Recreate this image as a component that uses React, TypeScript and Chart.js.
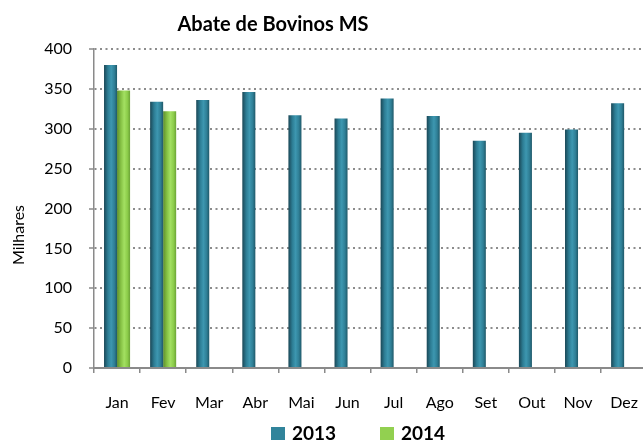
import React, { useEffect, useRef } from "react";
import { Chart, registerables } from "chart.js";

Chart.register(...registerables);

const months = ["Jan", "Fev", "Mar", "Abr", "Mai", "Jun", "Jul", "Ago", "Set", "Out", "Nov", "Dez"];
const values2013 = [380, 334, 336, 346, 317, 313, 338, 316, 285, 295, 299, 332];
const values2014: (number | null)[] = [348, 322, null, null, null, null, null, null, null, null, null, null];
const seriesNames = ["2013", "2014"];
const yTicks = { min: 0, max: 400, step: 50 };
const chartTitle = "Abate de Bovinos MS";
const yTitle = "Milhares";

const CAT_PCT = 0.565;
const FONT = "Lato, 'Open Sans', sans-serif";

const tealStops = ["#1a4756", "#2d7d94", "#3d97b0", "#2f7f96", "#1f5868"];
const greenStops = ["#5e8f2c", "#86c245", "#a3e062", "#8ccc4a", "#6ba336"];

function gradientFor(stops: string[]) {
  return (ctx: any) => {
    const chart = ctx.chart;
    const xs = chart.scales && chart.scales.x;
    if (!xs || !chart.chartArea) return stops[2];
    const center = xs.getPixelForValue(ctx.dataIndex);
    const catW = xs.width / months.length;
    const barW = (catW * CAT_PCT) / 2;
    const left = ctx.datasetIndex === 0 ? center - barW : center;
    const g = chart.ctx.createLinearGradient(left, 0, left + barW, 0);
    g.addColorStop(0, stops[0]);
    g.addColorStop(0.3, stops[1]);
    g.addColorStop(0.55, stops[2]);
    g.addColorStop(0.8, stops[3]);
    g.addColorStop(1, stops[4]);
    return g;
  };
}

const legendColors = ["#31849b", "#92d050"];

const decorPlugin = {
  id: "decor",
  afterDraw(chart: any) {
    const c = chart.ctx;
    c.save();
    // title
    c.fillStyle = "#000";
    c.font = `bold 20px ${FONT}`;
    c.textAlign = "center";
    c.textBaseline = "alphabetic";
    c.fillText(chartTitle, 273, 31);
    // y title
    c.save();
    c.translate(24, 235);
    c.rotate(-Math.PI / 2);
    c.font = `16px ${FONT}`;
    c.textAlign = "center";
    c.fillText(yTitle, 0, 0);
    c.restore();
    // legend
    c.font = `bold 19px ${FONT}`;
    c.textAlign = "left";
    const xs = [271, 380];
    seriesNames.forEach((name, i) => {
      c.fillStyle = legendColors[i];
      c.fillRect(xs[i], 427, 14, 13);
      c.fillStyle = "#000";
      c.fillText(name, xs[i] + 21, 440);
    });
    c.restore();
  },
};

export default function App() {
  const ref = useRef<HTMLCanvasElement>(null);
  useEffect(() => {
    if (!ref.current) return;
    const chart = new Chart(ref.current, {
      type: "bar",
      data: {
        labels: months,
        datasets: [
          {
            label: seriesNames[0],
            data: values2013,
            backgroundColor: gradientFor(tealStops),
            borderWidth: 0,
            categoryPercentage: CAT_PCT,
            barPercentage: 1,
          },
          {
            label: seriesNames[1],
            data: values2014,
            backgroundColor: gradientFor(greenStops),
            borderWidth: 0,
            categoryPercentage: CAT_PCT,
            barPercentage: 1,
          },
        ],
      },
      options: {
        responsive: false,
        animation: false,
        devicePixelRatio: 1,
        layout: { padding: { left: 0, right: 0, top: 49, bottom: 0 } },
        plugins: {
          legend: { display: false },
          title: { display: false },
          tooltip: { enabled: false },
        },
        scales: {
          x: {
            offset: true,
            grid: {
              offset: true,
              drawOnChartArea: false,
              drawTicks: true,
              tickLength: 5,
              color: "#8a8a8a",
              lineWidth: 1.5,
            },
            border: { display: true, color: "#8a8a8a", width: 2 },
            ticks: {
              color: "#000",
              font: { family: FONT, size: 16 },
              padding: 20,
              maxRotation: 0,
              autoSkip: false,
            },
            afterFit: (s: any) => {
              s.height = 73;
            },
          },
          y: {
            min: yTicks.min,
            max: yTicks.max,
            ticks: {
              stepSize: yTicks.step,
              color: "#000",
              font: { family: FONT, size: 16 },
              padding: 17,
            },
            grid: {
              color: "#8c8c8c",
              lineWidth: 2,
              tickLength: 5,
              tickBorderDash: [],
              tickColor: "#8a8a8a",
              tickWidth: 1.5,
            } as any,
            border: { display: true, color: "#8a8a8a", width: 1.5, dash: [2, 3.5] } as any,
            afterFit: (s: any) => {
              s.width = 94;
            },
          },
        },
      },
      plugins: [decorPlugin],
    });
    return () => chart.destroy();
  }, []);
  return (
    <div style={{ position: "fixed", left: 0, top: 0, width: 643, height: 441, overflow: "hidden", background: "#fff" }}>
      <canvas ref={ref} width={658} height={441} style={{ display: "block" }} />
    </div>
  );
}
